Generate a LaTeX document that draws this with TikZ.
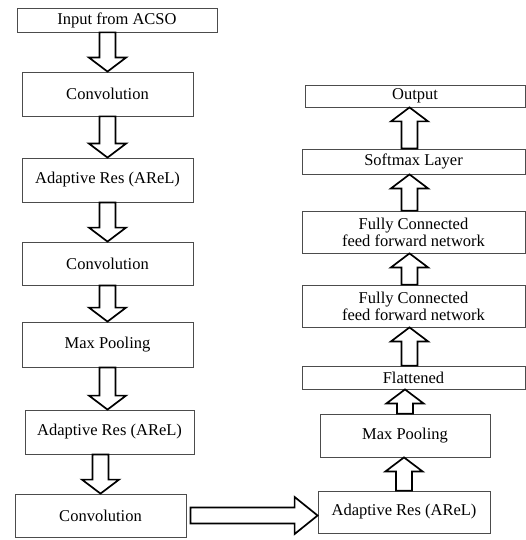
\documentclass[tikz,border=0pt]{standalone}
\usepackage{fontspec}
\setmainfont{Liberation Serif}
\usetikzlibrary{calc}

\tikzset{
  box/.style={draw=black!70, line width=0.8pt, fill=white, align=center, inner sep=0pt,
    font=\fontsize{16.5}{17}\selectfont},
  fatarrow/.style={draw=black, line width=1.7pt, fill=white, line join=miter}
}
% hollow block arrow: from, to, head length
\newcommand{\bigarrow}[3]{%
  \coordinate (hb) at ($(#2)!#3!(#1)$);
  \draw[fatarrow] ($(#1)!8pt!90:(#2)$) -- ($(hb)!8pt!90:(#2)$) -- ($(hb)!18.5pt!90:(#2)$)
    -- (#2) -- ($(hb)!18.5pt!-90:(#2)$) -- ($(hb)!8pt!-90:(#2)$) -- ($(#1)!8pt!-90:(#2)$) -- cycle;}

\begin{document}
\begin{tikzpicture}[x=1pt, y=-1pt]
      \useasboundingbox (0,0) rectangle (526,540);
      % Left column:
      \node[box, minimum width=200pt, minimum height=24pt] (inp) at (117,20) {Input from ACSO};
      \node[box, minimum width=171pt, minimum height=44pt] (conv1) at (107.5,94) {Convolution};
      \node[box, minimum width=171pt, minimum height=44pt] (arel1) at (107.5,180) {Adaptive Res (AReL)};
      \node[box, minimum width=171pt, minimum height=43pt] (conv2) at (107.5,263.5) {Convolution};
      \node[box, minimum width=171pt, minimum height=45pt] (mp1) at (107.5,344.5) {Max Pooling};
      \node[box, minimum width=169pt, minimum height=44pt] (arel2) at (109.5,432) {Adaptive Res (AReL)};
      \node[box, minimum width=171pt, minimum height=43pt] (conv3) at (100.5,515.5) {Convolution};
      % Right column:
      \node[box, minimum width=172pt, minimum height=42pt] (arel3) at (404,512) {Adaptive Res (AReL)};
      \node[box, minimum width=170pt, minimum height=43pt] (mp2) at (405,435.5) {Max Pooling};
      \node[box, minimum width=223pt, minimum height=23pt] (flat) at (413.5,377.5) {Flattened};
      \node[box, minimum width=223pt, minimum height=42pt] (fc2) at (413.5,306) {Fully Connected\\feed forward network};
      \node[box, minimum width=223pt, minimum height=42pt] (fc1) at (413.5,232) {Fully Connected\\feed forward network};
      \node[box, minimum width=223pt, minimum height=25pt] (soft) at (413.5,161.5) {Softmax Layer};
      \node[box, minimum width=220pt, minimum height=22pt] (out) at (415,96) {Output};
      % Arrows:
      \bigarrow{inp.south -| conv1.north}{conv1.north}{14pt}
      \bigarrow{conv1.south}{arel1.north}{14pt}
      \bigarrow{arel1.south}{conv2.north}{14pt}
      \bigarrow{conv2.south}{mp1.north}{14pt}
      \bigarrow{mp1.south}{arel2.north -| mp1.south}{14pt}
      \bigarrow{arel2.south -| conv3.north}{conv3.north}{14pt}
      \bigarrow{[xshift=4pt]conv3.east}{arel3.west |- conv3.east}{23pt}
      \bigarrow{arel3.north}{mp2.south -| arel3.north}{14pt}
      \bigarrow{mp2.north}{flat.south -| mp2.north}{14pt}
      \foreach \a/\b in {flat/fc2, fc2/fc1, fc1/soft, soft/out}
        \bigarrow{[xshift=-4pt]\a.north}{[xshift=-4pt]\a.north |- \b.south}{14pt};
\end{tikzpicture}
\end{document}
